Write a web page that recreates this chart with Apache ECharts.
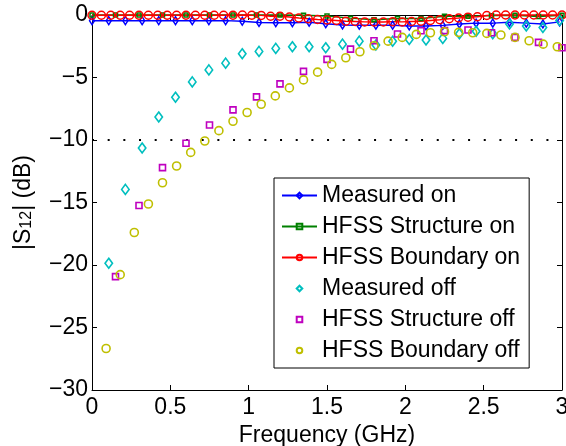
<!DOCTYPE html>
<html>
<head>
<meta charset="utf-8">
<script src="https://cdn.jsdelivr.net/npm/echarts@6/dist/echarts.min.js"></script>
<style>
html,body{margin:0;padding:0;background:#fff;}
#chart{width:566px;height:446px;}
</style>
</head>
<body>
<div id="chart"></div>
<script>
// ---- data ----
const xTicks = [0, 0.5, 1, 1.5, 2, 2.5, 3];
const yTicks = [-30, -25, -20, -15, -10, -5, 0];

const measFreq = [0, 0.107, 0.213, 0.320, 0.426, 0.533, 0.640, 0.746, 0.853, 0.959, 1.066, 1.173, 1.279, 1.386, 1.492, 1.599, 1.706, 1.812, 1.919, 2.025, 2.132, 2.239, 2.345, 2.452, 2.558, 2.665, 2.772, 2.878, 2.985];
const measuredOn = [-0.45, -0.45, -0.45, -0.45, -0.45, -0.45, -0.45, -0.45, -0.45, -0.5, -0.6, -0.62, -0.62, -0.58, -0.7, -0.8, -0.82, -0.82, -0.82, -0.88, -0.88, -0.83, -0.72, -0.65, -0.65, -0.58, -0.65, -0.72, -0.55];
const measuredOff = [null, -19.86, -13.95, -10.64, -8.16, -6.58, -5.35, -4.39, -3.85, -3.10, -2.91, -2.67, -2.54, -2.54, -2.62, -2.33, -2.09, -2.4, -2.1, -1.96, -2.0, -1.87, -1.5, -1.3, -1.5, -0.72, -0.88, -1.0, -0.44];

const structFreq = [0, 0.15, 0.3, 0.45, 0.6, 0.75, 0.9, 1.05, 1.2, 1.35, 1.5, 1.65, 1.8, 1.95, 2.1, 2.25, 2.4, 2.55, 2.7, 2.85, 3.0];
const structOn = [0, 0, 0, 0, 0, 0, 0, 0, 0, -0.02, -0.08, -0.25, -0.38, -0.28, -0.28, -0.1, -0.1, -0.05, -0.02, -0.12, -0.02];
const structOff = [null, -20.93, -15.24, -12.21, -10.26, -8.80, -7.59, -6.55, -5.51, -4.51, -3.55, -2.73, -2.06, -1.52, -1.26, -1.25, -1.20, -1.42, -1.79, -2.19, -2.62];

const boundOnFreq = [0, 0.06, 0.12, 0.18, 0.24, 0.3, 0.36, 0.42, 0.48, 0.54, 0.6, 0.66, 0.72, 0.78, 0.84, 0.9, 0.96, 1.02, 1.08, 1.14, 1.2, 1.26, 1.32, 1.38, 1.44, 1.5, 1.56, 1.62, 1.68, 1.74, 1.8, 1.86, 1.92, 1.98, 2.04, 2.1, 2.16, 2.22, 2.28, 2.34, 2.4, 2.46, 2.52, 2.58, 2.64, 2.7, 2.76, 2.82, 2.88, 2.94, 3.0];
const boundaryOn = [-0.02, -0.02, -0.02, -0.02, -0.02, -0.02, -0.02, -0.02, -0.02, -0.02, -0.02, -0.02, -0.02, -0.02, -0.02, -0.02, 0, -0.02, -0.03, -0.1, -0.1, -0.16, -0.24, -0.3, -0.36, -0.4, -0.44, -0.5, -0.52, -0.55, -0.56, -0.56, -0.53, -0.55, -0.52, -0.5, -0.44, -0.38, -0.3, -0.24, -0.17, -0.14, -0.04, 0, 0, 0, 0, 0, 0, 0, 0];

const boundOffFreq = [0.09, 0.18, 0.27, 0.36, 0.45, 0.54, 0.63, 0.72, 0.81, 0.90, 0.99, 1.08, 1.17, 1.26, 1.35, 1.44, 1.53, 1.62, 1.71, 1.80, 1.89, 1.98, 2.07, 2.16, 2.25, 2.34, 2.43, 2.52, 2.61, 2.70, 2.79, 2.88, 2.97];
const boundaryOff = [-26.68, -20.77, -17.40, -15.12, -13.42, -12.08, -10.99, -10.08, -9.25, -8.50, -7.80, -7.14, -6.47, -5.83, -5.19, -4.57, -3.95, -3.42, -2.94, -2.46, -2.09, -1.79, -1.55, -1.42, -1.34, -1.39, -1.42, -1.47, -1.60, -1.79, -2.06, -2.33, -2.54];

const thresholdDb = -10;

const seriesNames = ['Measured on', 'HFSS Structure on', 'HFSS Boundary on', 'Measured off', 'HFSS Structure off', 'HFSS Boundary off'];

// ---- build ----
function pairs(xs, ys) {
  const out = [];
  for (let i = 0; i < xs.length; i++) if (ys[i] !== null && ys[i] !== undefined) out.push([xs[i], ys[i]]);
  return out;
}
const FONT = 'Liberation Sans';
const FS = 23;
const clear = 'rgba(0,0,0,0)';

function lineSeries(name, data, color, symbol, size) {
  return {
    name, type: 'line', data, symbol, symbolSize: size, showAllSymbol: true,
    lineStyle: { color, width: 1.5 },
    itemStyle: { color: clear, borderColor: color, borderWidth: 1.5 },
    clip: false, z: 3
  };
}
// markers only: a line series whose line is hidden (keeps a compact legend marker)
function markerSeries(name, data, color, symbol, size) {
  return {
    name, type: 'line', data, symbol, symbolSize: size, showAllSymbol: true,
    lineStyle: { color, width: 0, opacity: 0 },
    itemStyle: { color: clear, borderColor: color, borderWidth: 1.6 },
    clip: false, z: 3
  };
}

const chart = echarts.init(document.getElementById('chart'), null, { renderer: 'canvas' });
const fmtY = v => (v < 0 ? '\u2212' + Math.abs(v) : String(v));

const axisCommon = {
  axisLine: { show: true, onZero: false, lineStyle: { color: '#000', width: 1 } },
  axisTick: { show: true, inside: true, length: 5, lineStyle: { color: '#000', width: 1 } },
  splitLine: { show: false }
};

chart.setOption({
  animation: false,
  backgroundColor: '#fff',
  textStyle: { fontFamily: FONT },
  grid: { left: 92, right: 4, top: 15, bottom: 56, containLabel: false, outerBoundsMode: 'none' },
  xAxis: [
    Object.assign({
      type: 'value', min: xTicks[0], max: xTicks[xTicks.length - 1], interval: xTicks[1] - xTicks[0],
      position: 'bottom',
      name: 'Frequency (GHz)', nameLocation: 'middle', nameGap: 32,
      nameTextStyle: { fontSize: FS, color: '#000', fontFamily: FONT },
      axisLabel: { fontSize: FS, color: '#000', margin: 6, fontFamily: FONT, showMaxLabel: true, showMinLabel: true }
    }, axisCommon),
    Object.assign({
      type: 'value', min: xTicks[0], max: xTicks[xTicks.length - 1], interval: xTicks[1] - xTicks[0],
      position: 'top', axisLabel: { show: false }
    }, axisCommon)
  ],
  yAxis: [
    Object.assign({
      type: 'value', min: yTicks[0], max: yTicks[yTicks.length - 1], interval: yTicks[1] - yTicks[0],
      position: 'left',
      name: '{t||S}{s|12}{t|| (dB)}', nameLocation: 'middle', nameGap: 57, nameRotate: 90,
      nameTextStyle: {
        color: '#000', fontFamily: FONT,
        rich: {
          t: { fontSize: FS, fontFamily: FONT, color: '#000', lineHeight: 23, verticalAlign: 'top' },
          s: { fontSize: 16, fontFamily: FONT, color: '#000', lineHeight: 16, verticalAlign: 'bottom' }
        },
        lineHeight: 28
      },
      axisLabel: { fontSize: FS, color: '#000', margin: 4, fontFamily: FONT, formatter: fmtY }
    }, axisCommon),
    Object.assign({
      type: 'value', min: yTicks[0], max: yTicks[yTicks.length - 1], interval: yTicks[1] - yTicks[0],
      position: 'right', axisLabel: { show: false }
    }, axisCommon)
  ],
  legend: {
    show: true,
    data: seriesNames,
    orient: 'vertical',
    left: 274, top: 178,
    padding: [6, 9, 6, 7],
    itemGap: 8,
    itemWidth: 35, itemHeight: 7,
    backgroundColor: '#fff',
    borderColor: '#000', borderWidth: 1, borderRadius: 0,
    textStyle: { fontSize: FS, color: '#000', fontFamily: FONT, lineHeight: 22 },
    selectedMode: false
  },
  series: [
    lineSeries(seriesNames[0], pairs(measFreq, measuredOn), '#0000ff', 'diamond', [5, 8]),
    lineSeries(seriesNames[1], pairs(structFreq, structOn), '#008000', 'rect', 4),
    lineSeries(seriesNames[2], pairs(boundOnFreq, boundaryOn), '#ff0000', 'circle', 8),
    markerSeries(seriesNames[3], pairs(measFreq, measuredOff), '#00bfbf', 'diamond', [7.5, 10]),
    markerSeries(seriesNames[4], pairs(structFreq, structOff), '#bf00bf', 'rect', 6),
    markerSeries(seriesNames[5], pairs(boundOffFreq, boundaryOff), '#bfbf00', 'circle', 8),
    {
      name: 'threshold', type: 'line', symbol: 'none',
      data: [[xTicks[0], thresholdDb], [xTicks[xTicks.length - 1], thresholdDb]],
      lineStyle: { color: '#000', width: 2, type: [2, 13.67], cap: 'butt' },
      z: 2, silent: true
    }
  ]
});
</script>
</body>
</html>
